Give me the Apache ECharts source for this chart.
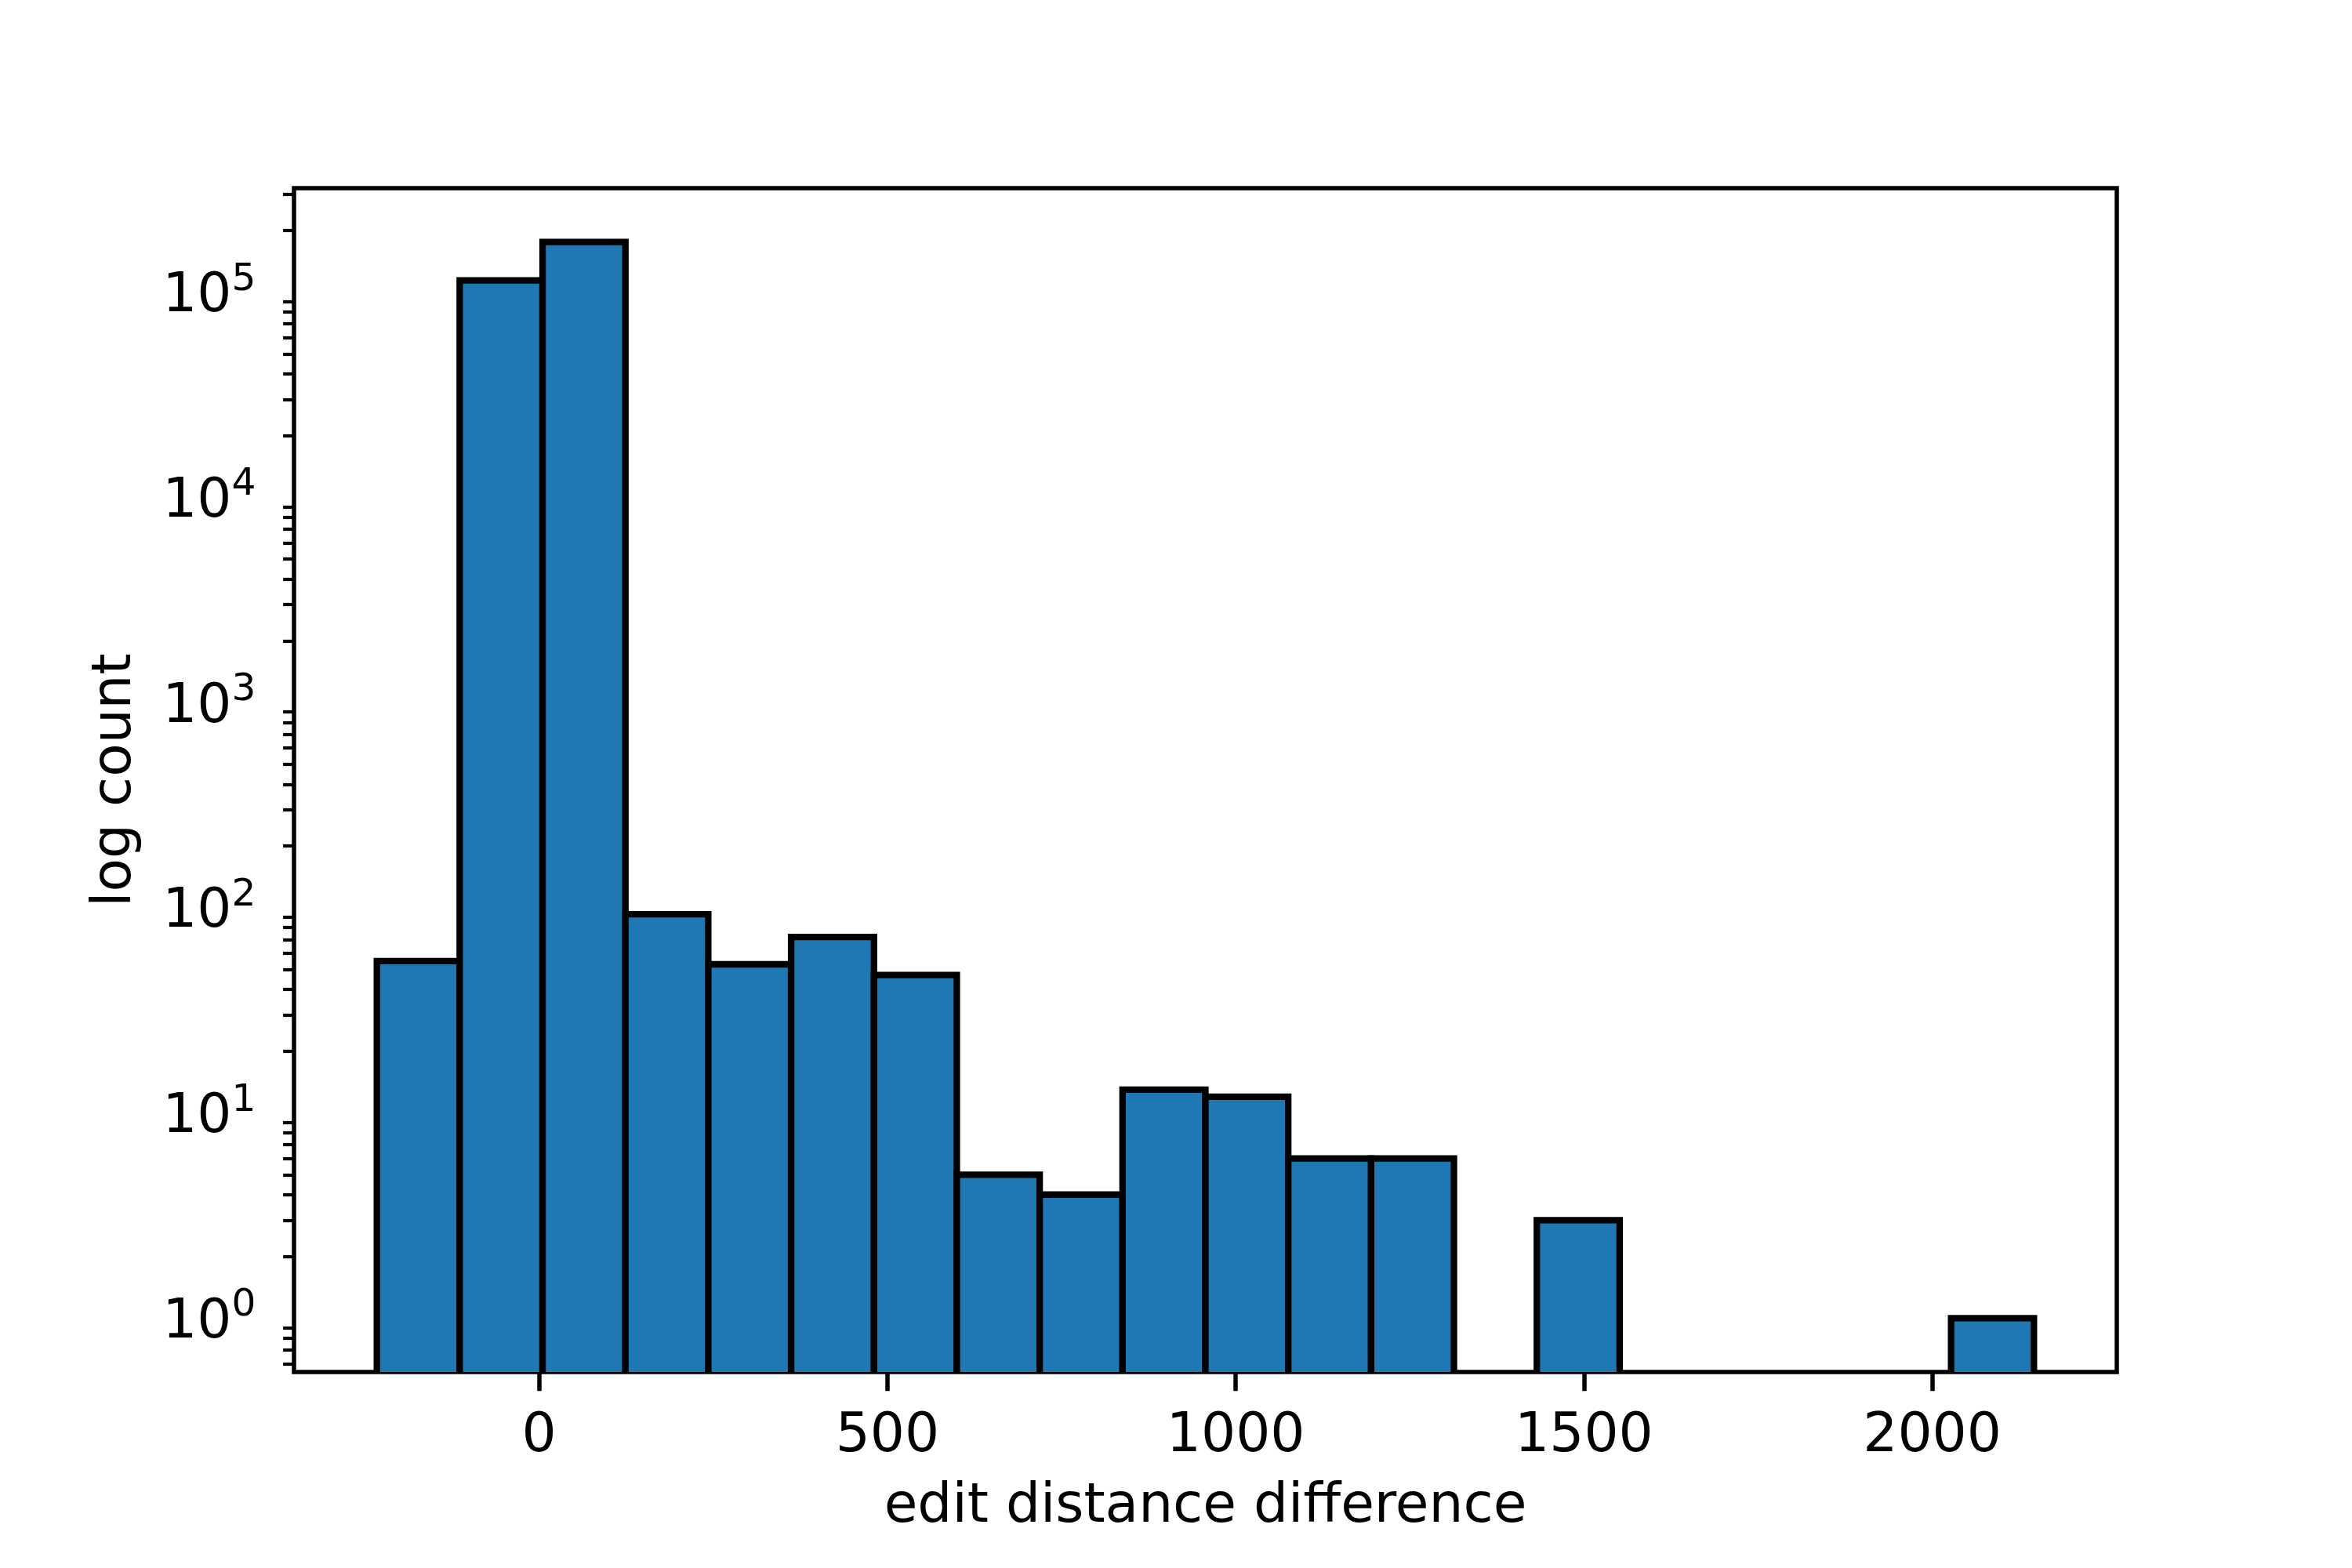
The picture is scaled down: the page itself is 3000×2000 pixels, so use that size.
<!DOCTYPE html>
<html>
<head>
<meta charset="utf-8">
<script src="https://cdn.jsdelivr.net/npm/echarts@6/dist/echarts.min.js"></script>
<style>
html,body{margin:0;padding:0;background:#fff;}
#chart{width:3000px;height:2000px;}
</style>
</head>
<body>
<div id="chart"></div>
<script>
// Histogram bin edges (edit distance difference), 20 bins
const binEdges = [-233.0, -114.05, 4.9, 123.85, 242.8, 361.75, 480.7, 599.65, 718.6, 837.55,
  956.5, 1075.45, 1194.4, 1313.35, 1432.3, 1551.25, 1670.2, 1789.15, 1908.1, 2027.05, 2146.0];
// Counts per bin
const binCounts = [55, 114000, 175500, 93, 53, 72, 47, 5, 4, 13, 12, 6, 6, 0, 3, 0, 0, 0, 0, 1];
// Tick values
const xTicks = [0, 500, 1000, 1500, 2000];
const yMajorTicks = [1, 10, 100, 1000, 10000, 100000];
const yMinorTicks = [0.6, 0.7, 0.8, 0.9,
  2, 3, 4, 5, 6, 7, 8, 9,
  20, 30, 40, 50, 60, 70, 80, 90,
  200, 300, 400, 500, 600, 700, 800, 900,
  2000, 3000, 4000, 5000, 6000, 7000, 8000, 9000,
  20000, 30000, 40000, 50000, 60000, 70000, 80000, 90000,
  200000, 300000];

const xLabel = 'edit distance difference';
const yLabel = 'log count';

const data = binCounts.map((c, i) => [binEdges[i], binEdges[i + 1], c]);

const span = binEdges[binEdges.length - 1] - binEdges[0];
const xMin = binEdges[0] - 0.05 * span;
const xMax = binEdges[binEdges.length - 1] + 0.05 * span;
const maxCount = Math.max(...binCounts);
const logMax = Math.log10(maxCount);
const yMin = Math.pow(10, -0.05 * logMax);
const yMax = Math.pow(10, logMax * 1.05);

const FONT = 'DejaVu Sans';
const FS = 69.4;

const chart = echarts.init(document.getElementById('chart'), null, {renderer: 'canvas'});
chart.setOption({
  animation: false,
  backgroundColor: '#ffffff',
  grid: {
    left: 375, right: 300, top: 240, bottom: 250,
    show: true, borderColor: '#000', borderWidth: 5.5, backgroundColor: 'transparent'
  },
  xAxis: {
    type: 'value', min: xMin, max: xMax,
    axisLine: {show: false},
    splitLine: {show: false},
    axisTick: {show: true, customValues: xTicks, length: 24.3, lineStyle: {color: '#000', width: 5.5}},
    axisLabel: {
      customValues: xTicks, margin: 48.6, color: '#000', fontFamily: FONT, fontSize: FS,
      formatter: function (v) { return String(v); }
    },
    name: xLabel, nameLocation: 'middle', nameGap: 138,
    nameTextStyle: {color: '#000', fontFamily: FONT, fontSize: FS}
  },
  yAxis: [{
    type: 'log', logBase: 10, min: yMin, max: yMax,
    axisLine: {show: false},
    splitLine: {show: false},
    minorTick: {show: false},
    axisTick: {show: true, customValues: yMajorTicks, length: 24.3, lineStyle: {color: '#000', width: 5.5}},
    axisLabel: {
      customValues: yMajorTicks, margin: 48.6, color: '#000',
      formatter: function (v) {
        const e = Math.round(Math.log10(v));
        return '{b|10}{s|' + e + '}';
      },
      rich: {
        b: {fontFamily: FONT, fontSize: FS, color: '#000', verticalAlign: 'bottom', lineHeight: 82},
        s: {fontFamily: FONT, fontSize: 48.6, color: '#000', verticalAlign: 'bottom', lineHeight: 50, padding: [0, 0, 32, 0]}
      }
    },
    name: yLabel, nameLocation: 'middle', nameGap: 193,
    nameTextStyle: {color: '#000', fontFamily: FONT, fontSize: FS}
  }, {
    type: 'log', logBase: 10, min: yMin, max: yMax, position: 'left',
    axisLine: {show: false},
    splitLine: {show: false},
    axisLabel: {show: false},
    axisTick: {show: true, customValues: yMinorTicks, length: 13.9, lineStyle: {color: '#000', width: 4.2}}
  }],
  series: [{
    type: 'custom',
    clip: true,
    xAxisIndex: 0, yAxisIndex: 0,
    encode: {x: [0, 1], y: 2},
    data: data,
    renderItem: function (params, api) {
      const x0 = api.value(0), x1 = api.value(1), c = api.value(2);
      if (!c || c <= 0) return null;
      const p0 = api.coord([x0, c]);
      const p1 = api.coord([x1, c]);
      const bottom = params.coordSys.y + params.coordSys.height + 12;
      return {
        type: 'rect',
        shape: {x: p0[0], y: p0[1], width: p1[0] - p0[0], height: bottom - p0[1]},
        style: {fill: '#1f77b4', stroke: '#000', lineWidth: 8.3}
      };
    }
  }]
});
</script>
</body>
</html>
